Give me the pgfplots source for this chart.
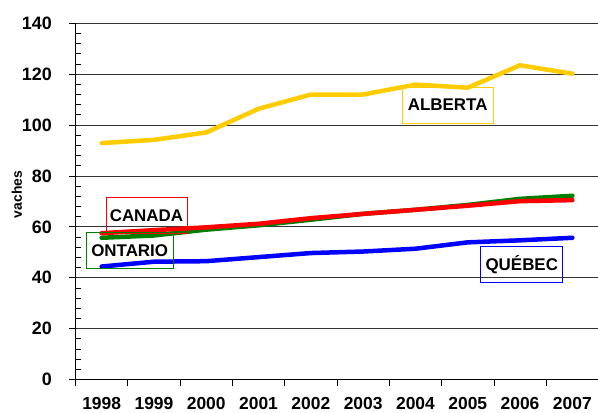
\documentclass[border=0pt]{standalone}
\usepackage{pgfplots}
\pgfplotsset{compat=1.18}
\usepackage{fontspec}
\setmainfont{Liberation Sans}
\definecolor{cAlb}{HTML}{FFCC00}
\definecolor{cCan}{HTML}{FF0000}
\definecolor{cOnt}{HTML}{008000}
\definecolor{cQue}{HTML}{0000FF}
\begin{document}
\begin{tikzpicture}
\useasboundingbox (0,0) rectangle (598bp,413bp);
\begin{axis}[
  at={(75.5bp,33.5bp)}, anchor=south west,
  scale only axis, width=523bp, height=356.2bp,
  xmin=-0.5, xmax=9.5, ymin=0, ymax=140,
  axis lines*=left,
  axis line style={black, line width=0.9bp},
  xtick={-0.5,0.5,...,9.5}, xticklabels={},
  extra x ticks={0,1,2,3,4,5,6,7,8,9},
  extra x tick labels={1998,1999,2000,2001,2002,2003,2004,2005,2006,2007},
  extra x tick style={major tick length=0pt, grid=none},
  ytick={0,20,...,140}, minor y tick num=4,
  tick align=outside,
  major tick length=6.5bp, minor tick length=5.5bp,
  every tick/.style={black, line width=0.8bp},
  every minor tick/.append style={xshift=5.5bp},
  ymajorgrids, xmajorgrids=false,
  major grid style={black!80, line width=0.8bp},
  /pgf/number format/assume math mode=true,
  yticklabel style={font=\bfseries\fontsize{18}{20}\selectfont, inner sep=0pt, xshift=-17bp},
  xticklabel style={font=\bfseries\fontsize{17.5}{19}\selectfont, anchor=north, inner sep=0pt, yshift=-18bp},
  clip=false,
]
\addplot[cQue, line width=4.5bp, line join=round, line cap=round] coordinates {
 (0,44.4) (1,46.3) (2,46.5) (3,48.1) (4,49.7) (5,50.3) (6,51.4) (7,53.9) (8,54.7) (9,55.7)};
\addplot[cOnt, line width=4.5bp, line join=round, line cap=round] coordinates {
 (0,55.7) (1,56.6) (2,58.9) (3,60.6) (4,62.8) (5,65.1) (6,66.7) (7,68.6) (8,71.0) (9,72.2)};
\addplot[cCan, line width=4.5bp, line join=round, line cap=round] coordinates {
 (0,57.5) (1,58.7) (2,59.8) (3,61.2) (4,63.4) (5,65.1) (6,66.7) (7,68.3) (8,70.1) (9,70.5)};
\addplot[cAlb, line width=4.5bp, line join=round, line cap=round] coordinates {
 (0,92.9) (1,94.2) (2,97.1) (3,106.4) (4,112.0) (5,112.0) (6,115.9) (7,114.7) (8,123.5) (9,120.2)};
\tikzset{lbl/.style={draw=#1, line width=0.8bp, minimum height=36bp, inner sep=0pt, font=\bfseries\fontsize{17}{19}\selectfont, text=black}}
\node[lbl=cCan, minimum width=81bp] at (axis cs:0.857,64.5) {CANADA};
\node[lbl=cOnt, minimum width=87bp] at (axis cs:0.536,50.7) {ONTARIO};
\node[lbl=cAlb, minimum width=91bp] at (axis cs:6.617,107.9) {ALBERTA};
\node[lbl=cQue, minimum width=82bp] at (axis cs:8.033,45.3) {QUÉBEC};
\end{axis}
\node[rotate=90, font=\bfseries\fontsize{14}{16}\selectfont] at (17bp,218.5bp) {vaches};
\end{tikzpicture}
\end{document}
